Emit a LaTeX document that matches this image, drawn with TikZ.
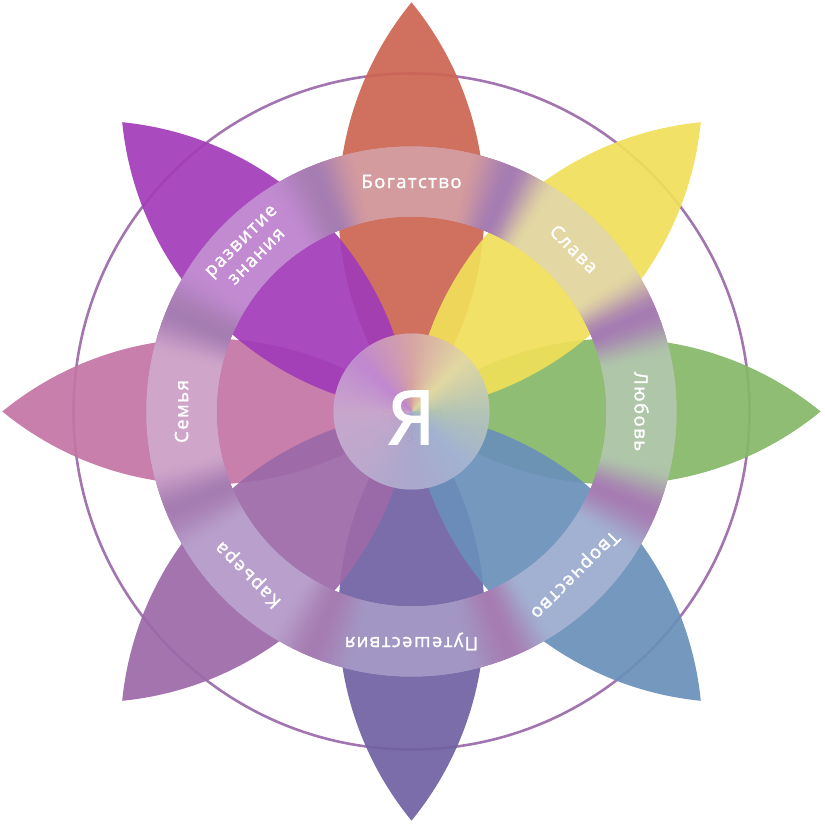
\documentclass[tikz,border=0pt]{standalone}
\usepackage{fontspec}
\setmainfont{Open Sans}[LetterSpace=8, FakeBold=1.6]
\newfontfamily\bigfont{Open Sans}[FakeBold=2.5]
\definecolor{pA}{HTML}{86B868}% right   Любовь
\definecolor{pB}{HTML}{F0DF5A}% 45      Слава
\definecolor{pC}{HTML}{CC6553}% top     Богатство
\definecolor{pD}{HTML}{A23CB9}% 135     развитие
\definecolor{pE}{HTML}{C475A5}% left    Семья
\definecolor{pF}{HTML}{9D69A9}% 225     Карьера
\definecolor{pG}{HTML}{7062A3}% bottom  Путешествия
\definecolor{pH}{HTML}{6A90BA}% 315     Творчество
\definecolor{tint0}{HTML}{AFC6A9}
\definecolor{tint1}{HTML}{E3D7A3}
\definecolor{tint2}{HTML}{D49B9E}
\definecolor{tint3}{HTML}{C18AD1}
\definecolor{tint4}{HTML}{CFA6CA}
\definecolor{tint5}{HTML}{B9A0CC}
\definecolor{tint6}{HTML}{A297C4}
\definecolor{tint7}{HTML}{A2B1D2}
\definecolor{ringpurple}{HTML}{A67DB2}
\definecolor{ck0}{HTML}{B4C4B4}
\definecolor{ck1}{HTML}{E2D8A2}
\definecolor{ck2}{HTML}{D6A4A4}
\definecolor{ck3}{HTML}{C088D0}
\definecolor{ck4}{HTML}{C8A6CC}
\definecolor{ck5}{HTML}{BCA8CC}
\definecolor{ck6}{HTML}{AAA8CC}
\definecolor{ck7}{HTML}{A2B2D2}
\definecolor{circlecol}{HTML}{A375B0}
\newcommand\mypetal[2]{%
  \fill[#2, fill opacity=0.93, rotate=#1]
    (0pt,0pt) arc[start angle=-39.3, end angle=39.3, radius=323pt]
    arc[start angle=140.7, end angle=219.3, radius=323pt] -- cycle;}
\begin{document}
\begin{tikzpicture}[x=1pt,y=1pt,
  lbl/.style={text=white, font=\fontsize{18.5}{22}\selectfont, align=center},
  bigletter/.style={text=white, font=\bigfont\fontsize{74}{74}\selectfont}]
\useasboundingbox (-411.5,-413.5) rectangle (413.5,411.5);
% outer circle
\draw[circlecol, line width=2.6pt] (0,0) circle[radius=338pt];
% petals: cardinal first, diagonals on top
\mypetal{0}{pC}
\mypetal{-90}{pA}
\mypetal{180}{pG}
\mypetal{90}{pE}
\mypetal{-45}{pB}
\mypetal{45}{pD}
\mypetal{135}{pF}
\mypetal{-135}{pH}
% ring with angular colour blending
\foreach \i in {0,...,719} {
  \pgfmathsetmacro\th{\i*0.5}
  \pgfmathtruncatemacro\k{mod(round(\th/45),8)}
  \pgfmathsetmacro\d{abs(\th-45*round(\th/45))}
  \pgfmathsetmacro\s{max(0,min(1,(\d-12)/10.5))}
  \pgfmathtruncatemacro\p{100*(1-\s*\s*(3-2*\s))}
  \colorlet{cur}{tint\k!\p!ringpurple}
  \fill[cur] (\th-0.3:195pt) arc[start angle=\th-0.3, end angle=\th+1.2, radius=195pt]
    -- (\th+1.2:265pt) arc[start angle=\th+1.2, end angle=\th-0.3, radius=265pt] -- cycle;
}
% centre circle, conic blend
\foreach \i in {0,...,359} {
  \pgfmathsetmacro\th{\i}
  \pgfmathtruncatemacro\k{floor(\th/45)}
  \pgfmathtruncatemacro\kk{mod(\k+1,8)}
  \pgfmathtruncatemacro\p{100*(\th-45*\k)/45}
  \colorlet{cc}{ck\kk!\p!ck\k}
  \fill[cc] (0,0) -- (\th-0.3:78pt) arc[start angle=\th-0.3, end angle=\th+1.5, radius=78pt] -- cycle;
}
\node[bigletter] (ya) at (0,-6) {Я};
% labels
\node[lbl, rotate=0]    (l1) at (90:230pt)  {Богатство};
\node[lbl, rotate=-45]  (l2) at (45:230pt)  {Слава};
\node[lbl, rotate=-90]  (l3) at (0:230pt)   {Любовь};
\node[lbl, rotate=-135] (l4) at (-45:230pt) {Творчество};
\node[lbl, rotate=180]  (l5) at (-90:230pt) {Путешествия};
\node[lbl, rotate=135]  (l6) at (-135:230pt){Карьера};
\node[lbl, rotate=90]   (l7) at (180:230pt) {Семья};
\node[lbl, rotate=45]   (l8) at (135:230pt) {развитие\\знания};
\end{tikzpicture}
\end{document}
